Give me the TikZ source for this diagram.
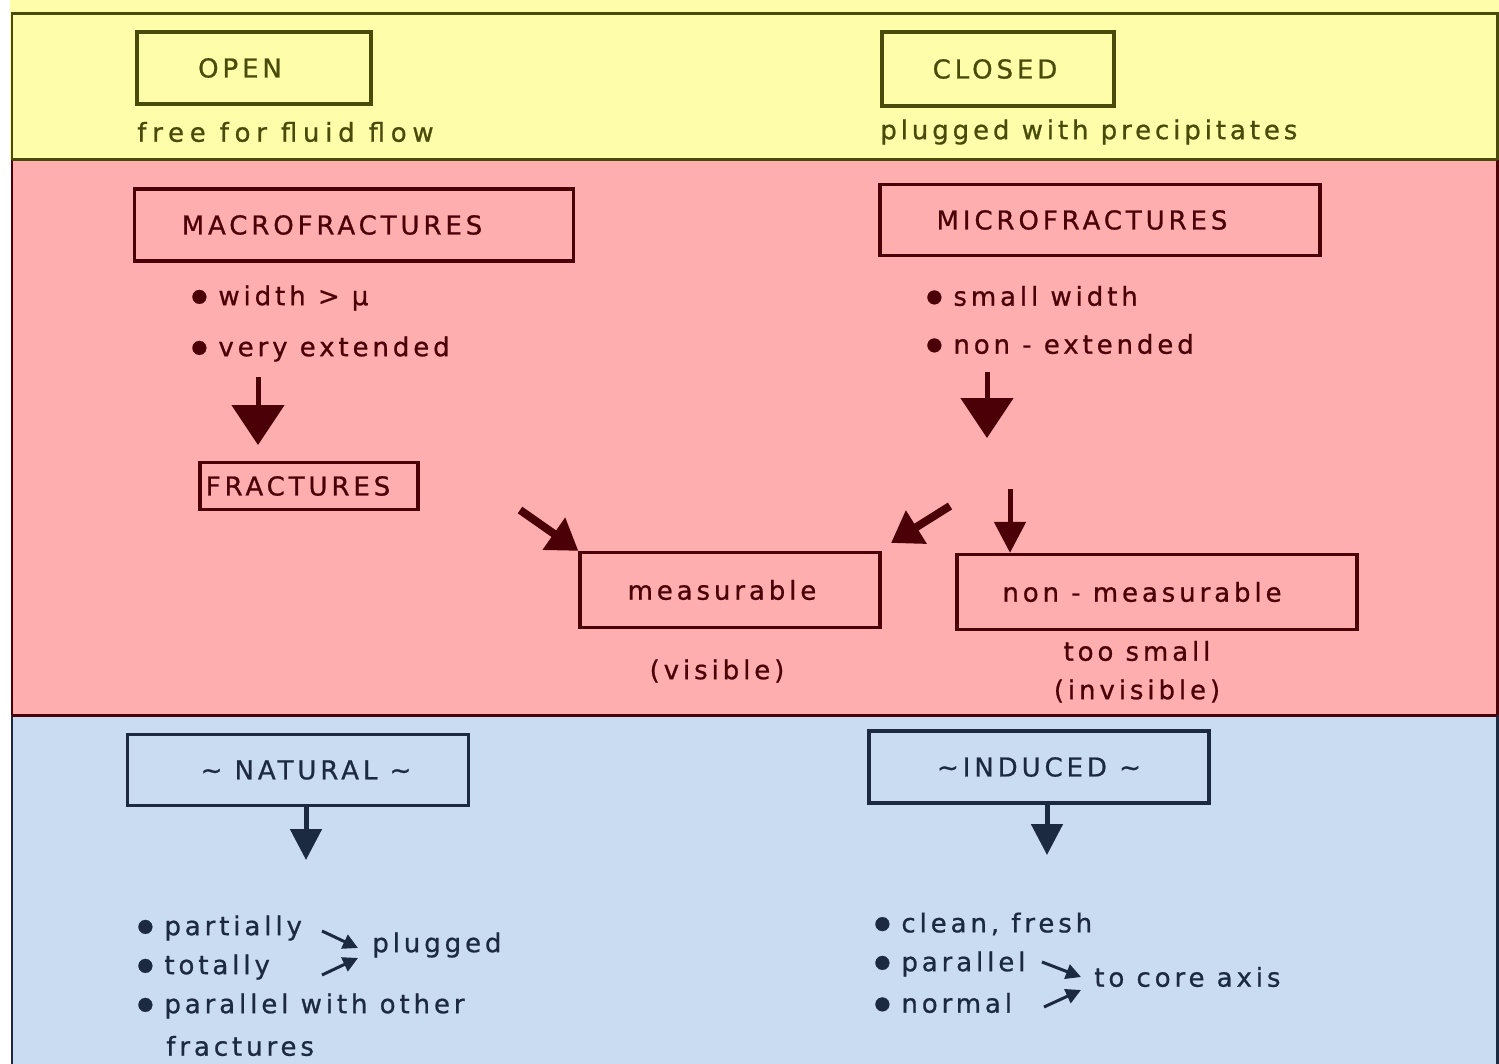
\documentclass[tikz,border=0pt]{standalone}
\usepackage{fontspec}
\setmainfont{DejaVu Sans}[LetterSpace=15, FakeBold=0.8]
\usetikzlibrary{arrows.meta}
\definecolor{cyelfill}{HTML}{FEFEAA}
\definecolor{cpnkfill}{HTML}{FEAEAE}
\definecolor{cblufill}{HTML}{CADCF2}
\definecolor{cyelink}{HTML}{4A4A0A}
\definecolor{cpnkink}{HTML}{4A0006}
\definecolor{cbluink}{HTML}{1B2A40}
\newcommand\bul{{\fontsize{10.5}{10.5}\selectfont\raisebox{0.07cm}{●}}\hspace{0.22cm}}
\begin{document}
\begin{tikzpicture}[x=0.02cm,y=-0.02cm,
  txt/.style={inner sep=0pt, font=\fontsize{14.8}{17}\selectfont},
  lt/.style={txt, anchor=west},
  box/.style={draw, line width=0.065cm, inner sep=0pt, font=\fontsize{14.8}{17}\selectfont},
  frameline/.style={line width=0.06cm},
  bigarr/.style={line width=0.1cm, -{Triangle[width=1.04cm,length=0.8cm]}},
  diagarr/.style={line width=0.16cm, -{Triangle[width=0.75cm,length=0.6cm]}},
  midarr/.style={line width=0.1cm, -{Triangle[width=0.62cm,length=0.62cm]}},
  smallarr/.style={line width=0.06cm, -{Triangle[width=0.3cm,length=0.3cm]}}
]
\useasboundingbox (0,0) rectangle (1499,1064);
% bands
\fill[white] (0,0) rectangle (1499,1064);
\fill[cyelfill] (10,0) rectangle (1499,160);
\fill[cpnkfill] (12,160) rectangle (1497,715);
\fill[cblufill] (12,715) rectangle (1497,1064);
\draw[cyelink, frameline] (12,160) -- (12,14) -- (1497,14) -- (1497,160);
\draw[cpnkink, frameline] (12,160) -- (12,715);
\draw[cpnkink, frameline] (1497,160) -- (1497,715);
\draw[cyelink, frameline] (12,160) -- (1497,160);
\draw[cbluink, frameline] (12,715) -- (12,1064);
\draw[cbluink, frameline] (1497,715) -- (1497,1064);
\draw[cpnkink, frameline] (12,715) -- (1497,715);

% ---- yellow band
\begin{scope}[cyelink]
\node[box, minimum width=4.68cm, minimum height=1.44cm] (open) at (254,68) {\hspace*{-0.56cm}OPEN};
\node[lt] (free) at (137,132) {\addfontfeature{LetterSpace=22}free for fluid flow};
\node[box, minimum width=4.64cm, minimum height=1.48cm] (closed) at (998,69) {\hspace*{-0.12cm}CLOSED};
\node[lt] (plugw) at (880,132) {plugged with precipitates};
\end{scope}

% ---- pink band
\begin{scope}[cpnkink]
\node[box, minimum width=8.78cm, minimum height=1.44cm] (macro) at (354,225) {\hspace*{-0.88cm}MACROFRACTURES};
\node[lt] (m1) at (191,298) {\bul width > µ};
\node[lt] (m2) at (191,349) {\bul very extended};
\node[box, minimum width=8.8cm, minimum height=1.42cm] (micro) at (1100,220) {\hspace*{-0.72cm}\raisebox{-0.1cm}{MICROFRACTURES}};
\node[lt] (u1) at (926,296) {\bul small width};
\node[lt] (u2) at (926,344) {\bul non - extended};
\node[box, minimum width=4.36cm, minimum height=0.94cm] (fract) at (309,486) {\hspace*{-0.44cm}FRACTURES};
\node[box, minimum width=6.0cm, minimum height=1.5cm] (meas) at (730,590) {\hspace*{-0.32cm}measurable};
\node[txt] (vis) at (717,671) {(visible)};
\node[box, minimum width=8.0cm, minimum height=1.5cm] (nonmeas) at (1157,592) {\hspace*{-0.6cm}non - measurable};
\node[txt] (small) at (1137,651) {too small};
\node[txt] (invis) at (1137,691) {(invisible)};
\coordinate (a1s) at (258,377);
\coordinate (a1e) at (258,445);
\coordinate (a2s) at (987,372);
\coordinate (a2e) at (987,438);
\coordinate (a3s) at (520,510);
\coordinate (a4s) at (950,506);
\coordinate (a4e) at (891,543);
\coordinate (a5s) at (1010,489);
\draw[bigarr] (a1s) -- (a1e);
\draw[bigarr] (a2s) -- (a2e);
\draw[diagarr] (a3s) -- (meas.north west);
\draw[diagarr] (a4s) -- (a4e);
\draw[midarr] (a5s) -- (nonmeas.north -| a5s);
\end{scope}

% ---- blue band
\begin{scope}[cbluink]
\node[box, minimum width=6.82cm, minimum height=1.42cm] (nat) at (298,770) {\hspace*{0.32cm}\textasciitilde{} NATURAL \textasciitilde};
\node[box, minimum width=6.8cm, minimum height=1.44cm] (ind) at (1039,767) {\textasciitilde INDUCED \textasciitilde};
\coordinate (n1e) at (306,860);
\coordinate (i1e) at (1047,855);
\draw[midarr] (nat.south -| n1e) -- (n1e);
\draw[midarr] (ind.south -| i1e) -- (i1e);
\node[lt] (b1) at (137,928) {\bul partially};
\node[lt] (b2) at (137,967) {\bul totally};
\node[lt] (b3) at (137,1006) {\bul parallel with other};
\node[lt] (b4) at (166,1046) {fractures};
\node[lt] (plug) at (372,945) {plugged};
\coordinate (p1s) at (322,931);
\coordinate (p2s) at (322,975);
\draw[smallarr] (p1s) -- ([xshift=-0.28cm,yshift=-0.06cm]plug.west);
\draw[smallarr] (p2s) -- ([xshift=-0.28cm,yshift=-0.26cm]plug.west);
\node[lt] (c1) at (874,924) {\bul clean, fresh};
\node[lt] (c2) at (874,964) {\bul parallel};
\node[lt] (c3) at (874,1003) {\bul normal};
\node[lt] (axis) at (1094,977) {to core axis};
\coordinate (q1s) at (1042,962);
\coordinate (q2s) at (1044,1007);
\draw[smallarr] (q1s) -- ([xshift=-0.26cm]axis.west);
\draw[smallarr] (q2s) -- ([xshift=-0.26cm,yshift=-0.26cm]axis.west);
\end{scope}
\end{tikzpicture}
\end{document}
